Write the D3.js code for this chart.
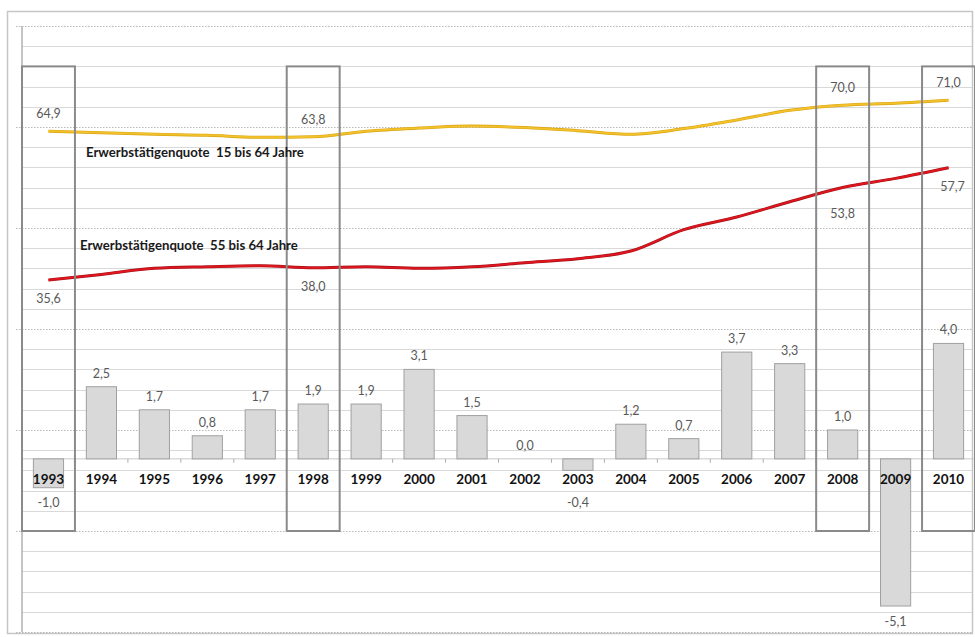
<!DOCTYPE html>
<html><head><meta charset="utf-8">
<script src="https://cdn.jsdelivr.net/npm/d3@7"></script>
<style>html,body{margin:0;padding:0;background:#fff;} svg{display:block;font-family:Lato,"Open Sans",sans-serif;}</style>
</head><body>
<svg id="c" width="975" height="637"></svg>
<script>
const years = ["1993","1994","1995","1996","1997","1998","1999","2000","2001","2002","2003","2004","2005","2006","2007","2008","2009","2010"];
const growth = [-1.0,2.5,1.7,0.8,1.7,1.9,1.9,3.1,1.5,0.0,-0.4,1.2,0.7,3.7,3.3,1.0,-5.1,4.0];
const quote1564 = [64.9,64.6,64.3,64.1,63.7,63.8,64.9,65.5,65.9,65.6,65.0,64.3,65.4,67.1,69.0,70.0,70.4,71.0];
const quote5564 = [35.6,36.7,37.9,38.2,38.4,38.0,38.2,37.9,38.2,39.0,39.8,41.3,45.5,48.0,51.0,53.8,55.6,57.7];
const highlightYears = ["1993","1998","2008","2010"];
const label1564 = "Erwerbstätigenquote  15 bis 64 Jahre";
const label5564 = "Erwerbstätigenquote  55 bis 64 Jahre";
const fmt = v => v.toFixed(1).replace(".", ",");

const svg = d3.select("#c");
const pL = 22, pR = 975, pT = 26, pB = 632;

const x = d3.scaleBand().domain(years).range([pL, pR]).paddingInner(0.43).paddingOuter(0.215);
const xb = d3.scaleBand().domain(years).range([pL, pR]);
const yBar = d3.scaleLinear().domain([-6, 15]).range([pB, pT]);
const yLine = d3.scaleLinear().domain([-33.7, 85.6]).range([pB, pT]);

// outer frame
svg.append("rect").attr("x", 7.5).attr("y", 11.5).attr("width", 965).attr("height", 622)
  .attr("fill", "none").attr("stroke", "#c6c6c6").attr("stroke-width", 1.5);

// gridlines (ticks of bar axis every 0.7)
const gridVals = d3.range(0, 31).map(i => -6 + 0.7 * i);
svg.append("g").selectAll("line").data(gridVals).join("line")
  .attr("x1", (d, i) => i % 5 === 0 ? 16 : pL).attr("x2", 972)
  .attr("y1", d => Math.round(yBar(d)) + 0.5).attr("y2", d => Math.round(yBar(d)) + 0.5)
  .attr("stroke", (d, i) => i % 5 === 0 ? "#b8b8b8" : "#d9d9d9")
  .attr("stroke-dasharray", (d, i) => i % 5 === 0 ? "1.5,1.5" : null)
  .attr("stroke-width", 1.2);

// vertical axis line
svg.append("line").attr("x1", pL).attr("x2", pL).attr("y1", pT).attr("y2", pB)
  .attr("stroke", "#b0b0b0").attr("stroke-width", 1.5);

// zero axis
const y0 = yBar(0);
svg.append("line").attr("x1", pL).attr("x2", pR).attr("y1", y0).attr("y2", y0)
  .attr("stroke", "#c8c8c8").attr("stroke-width", 1);
svg.append("g").selectAll("line").data(years.slice(1)).join("line")
  .attr("x1", d => xb(d)).attr("x2", d => xb(d)).attr("y1", y0).attr("y2", y0 + 4)
  .attr("stroke", "#b0b0b0").attr("stroke-width", 1);

// bars
svg.append("g").selectAll("rect").data(years).join("rect")
  .attr("x", d => x(d)).attr("width", x.bandwidth())
  .attr("y", (d, i) => yBar(Math.max(0, growth[i])))
  .attr("height", (d, i) => Math.abs(yBar(growth[i]) - yBar(0)))
  .attr("fill", "#d9d9d9").attr("stroke", "#a0a0a0").attr("stroke-width", 1);

// year labels
svg.append("g").selectAll("text").data(years).join("text")
  .attr("x", d => x(d) + x.bandwidth() / 2).attr("y", y0 + 25)
  .attr("text-anchor", "middle").attr("font-size", 13.5).attr("font-weight", 700).attr("fill", "#111")
  .text(d => d);

// bar value labels
svg.append("g").selectAll("text").data(years).join("text")
  .attr("x", d => x(d) + x.bandwidth() / 2)
  .attr("y", (d, i) => growth[i] >= 0 ? yBar(growth[i]) - 9 : Math.max(yBar(growth[i]) + 19.5, y0 + 48))
  .attr("text-anchor", "middle").attr("font-size", 12.5).attr("fill", "#595959")
  .text((d, i) => fmt(growth[i]));

// lines
const cx = d => x(d) + x.bandwidth() / 2;
const mkLine = arr => d3.line().x(d => cx(d)).y((d, i) => yLine(arr[i])).curve(d3.curveMonotoneX)(years);
svg.append("path").attr("d", mkLine(quote1564)).attr("fill", "none").attr("stroke", "#d9a514").attr("stroke-width", 3);
svg.append("path").attr("d", mkLine(quote1564)).attr("fill", "none").attr("stroke", "#f3c12a").attr("stroke-width", 1.8);
svg.append("path").attr("d", mkLine(quote5564)).attr("fill", "none").attr("stroke", "#a5121a").attr("stroke-width", 3);
svg.append("path").attr("d", mkLine(quote5564)).attr("fill", "none").attr("stroke", "#e0161e").attr("stroke-width", 1.8);

// highlight boxes
svg.append("g").selectAll("rect").data(highlightYears).join("rect")
  .attr("x", d => xb(d)).attr("width", xb.bandwidth())
  .attr("y", yBar(13.6)).attr("height", yBar(-2.5) - yBar(13.6))
  .attr("fill", "none").attr("stroke", "#8a8a8a").attr("stroke-width", 2);

// line value labels
const hi = highlightYears.map(y => years.indexOf(y));
svg.append("g").selectAll("text").data(hi).join("text")
  .attr("x", i => cx(years[i])).attr("y", i => yLine(quote1564[i]) - 13)
  .attr("text-anchor", "middle").attr("font-size", 12.5).attr("fill", "#595959")
  .text(i => fmt(quote1564[i]));
svg.append("g").selectAll("text").data(hi).join("text")
  .attr("x", i => cx(years[i]) + (i === years.length - 1 ? 4 : 0))
  .attr("y", i => yLine(quote5564[i]) + (i === 15 ? 30 : 23))
  .attr("text-anchor", "middle").attr("font-size", 12.5).attr("fill", "#595959")
  .text(i => fmt(quote5564[i]));

// series annotations
svg.append("text").attr("x", 86).attr("y", yLine(quote1564[0]) + 26)
  .attr("font-size", 13.2).attr("font-weight", 700).attr("fill", "#1a1a1a").style("white-space", "pre")
  .text(label1564);
svg.append("text").attr("x", 80).attr("y", yLine(quote5564[0]) - 30)
  .attr("font-size", 13.2).attr("font-weight", 700).attr("fill", "#1a1a1a").style("white-space", "pre")
  .text(label5564);
</script>
</body></html>
